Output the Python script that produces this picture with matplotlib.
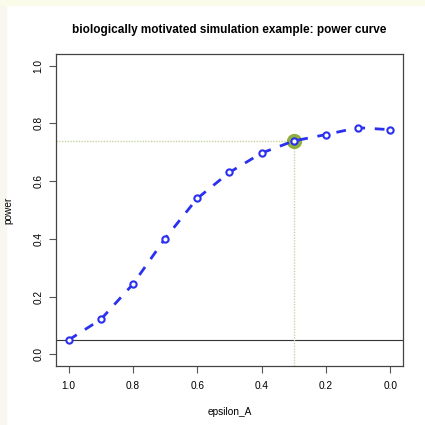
import numpy as np
import matplotlib.pyplot as plt

plt.rcParams['font.family'] = ['Liberation Sans', 'DejaVu Sans']

# data
epsilon_A = [1.0, 0.9, 0.8, 0.7, 0.6, 0.5, 0.4, 0.3, 0.2, 0.1, 0.0]
power = [0.050, 0.121, 0.243, 0.401, 0.540, 0.630, 0.697, 0.739, 0.761, 0.785, 0.778]
alpha_level = 0.05
chosen_eps = 0.3
chosen_power = 0.739

xticks = [1.0, 0.8, 0.6, 0.4, 0.2, 0.0]
yticks = [0.0, 0.2, 0.4, 0.6, 0.8, 1.0]

fig = plt.figure(figsize=(4.25, 4.25), dpi=100)
fig.patch.set_facecolor('white')

# pale frame strips at top/left of the screenshot
fig.patches.append(plt.Rectangle((0, 0), 6/425, 1, transform=fig.transFigure,
                                 color='#f7f7ef', zorder=-5))
fig.patches.append(plt.Rectangle((0, 1 - 5/425), 1, 5/425, transform=fig.transFigure,
                                 color='#fbfbea', zorder=-5))

ax = fig.add_axes([55.7/425, 1 - 366/425, (403 - 55.7)/425, (366 - 54)/425])

ax.set_xlim(1.04, -0.04)
ax.set_ylim(-0.04, 1.04)

ax.axhline(alpha_level, color='#333333', lw=0.8, zorder=1)

# guide lines to chosen point
ax.plot([1.04, chosen_eps], [chosen_power, chosen_power], color='#c5d69e',
        lw=1.0, ls=(0, (1, 1)), zorder=1)
ax.plot([chosen_eps, chosen_eps], [-0.04, chosen_power], color='#c5d69e',
        lw=1.0, ls=(0, (1, 1)), zorder=1)

ax.plot(chosen_eps, chosen_power, 'o', ms=10, color='#8fb040', zorder=2)

ax.plot(epsilon_A, power, color='#2a30f0', lw=2, dashes=(3.5, 3.5), zorder=3)
ax.plot(epsilon_A, power, 'o', ms=4.5, mfc='white', mec='#2a30f0', mew=1.5, zorder=4)

ax.set_xticks(xticks)
ax.set_xticklabels(['%.1f' % v for v in xticks])
ax.set_yticks(yticks)
ax.set_yticklabels(['%.1f' % v for v in yticks], rotation=90, va='center')
ax.tick_params(direction='out', length=5, width=0.8, color='#555555',
               labelsize=7.3, pad=4)
ax.tick_params(axis='x', pad=6)
for s in ax.spines.values():
    s.set_color('#444444')
    s.set_linewidth(0.9)

ax.set_xlabel('epsilon_A', fontsize=7.3)
ax.xaxis.set_label_coords(0.5, -(407 - 366)/312)
ax.set_ylabel('power', fontsize=7.3)
ax.yaxis.set_label_coords(-(55.7 - 13)/347.3, 0.5)

fig.text(229/425, 1 - 30.5/425, 'biologically motivated simulation example: power curve',
         ha='center', va='center', fontsize=8.45, fontweight='bold')

fig.savefig('out.png', dpi=100)
